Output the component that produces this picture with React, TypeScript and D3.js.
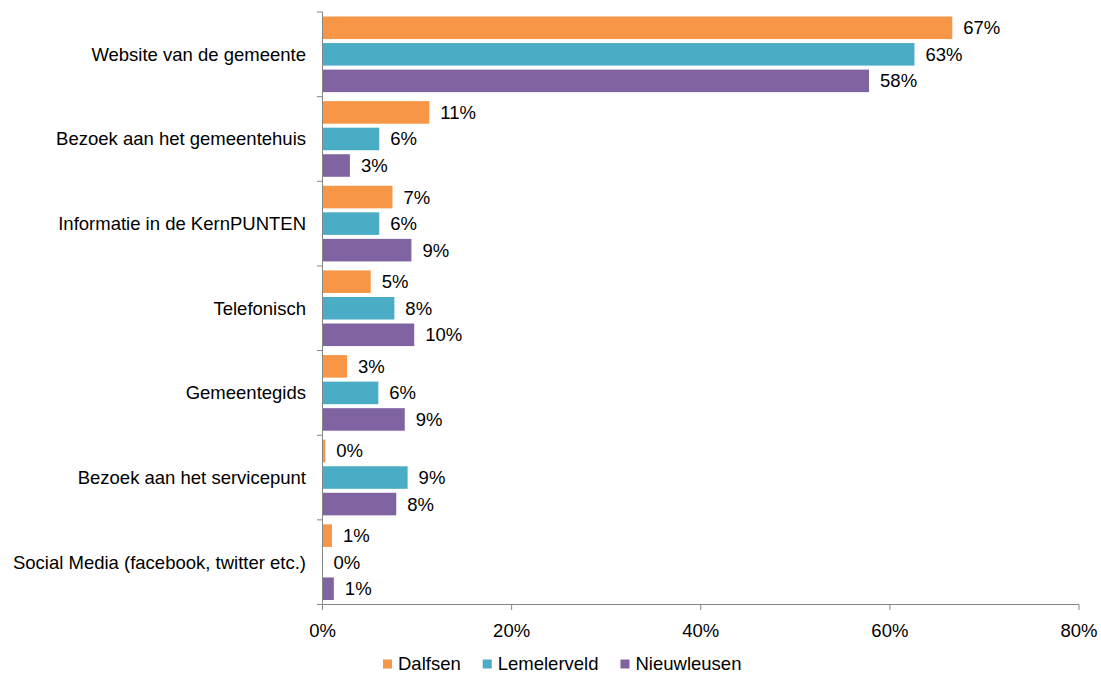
import React from "react";
import * as d3 from "d3";

const categories = [
  "Website van de gemeente",
  "Bezoek aan het gemeentehuis",
  "Informatie in de KernPUNTEN",
  "Telefonisch",
  "Gemeentegids",
  "Bezoek aan het servicepunt",
  "Social Media (facebook, twitter etc.)",
];
const seriesNames = ["Dalfsen", "Lemelerveld", "Nieuwleusen"];
const seriesColors = ["#F79646", "#4BACC6", "#8064A2"];
const dalfsen = [66.6, 11.3, 7.4, 5.1, 2.6, 0.3, 1.0];
const lemelerveld = [62.6, 6.0, 6.0, 7.6, 5.9, 9.0, 0];
const nieuwleusen = [57.8, 2.9, 9.4, 9.7, 8.7, 7.8, 1.2];
const seriesValues = [dalfsen, lemelerveld, nieuwleusen];
const xTicks = [0, 20, 40, 60, 80];

const W = 1101;
const H = 674;
const FONT = "'Liberation Sans', Arial, sans-serif";
const FS = 18.5;
const AXIS = "#868686";

export default function App() {
  const left = 322.5;
  const right = 1079;
  const top = 12;
  const bottom = 604.5;

  const x = d3.scaleLinear().domain([0, 80]).range([left, right]);
  const y = d3.scaleBand<string>().domain(categories).range([top, bottom]).padding(0);
  const bw = y.bandwidth();
  const inner = d3
    .scaleBand<string>()
    .domain(seriesNames)
    .range([4.5, bw - 4.5])
    .paddingInner(0.15)
    .paddingOuter(0);

  const boundaries = d3.range(categories.length + 1).map((i) => top + i * bw);

  // legend layout
  const sq = 9;
  const gapSq = 6;
  const gapEntry = 22;
  const measure = (s: string) => {
    const c = document.createElement("canvas").getContext("2d");
    if (!c) return s.length * 9;
    c.font = `${FS}px ${FONT}`;
    return c.measureText(s).width;
  };
  let lx = 383;
  const legend = seriesNames.map((n, i) => {
    const e = { name: n, color: seriesColors[i], x: lx };
    lx += sq + gapSq + measure(n) + gapEntry;
    return e;
  });
  const legendY = 663;

  return (
    <svg
      width={W}
      height={H}
      style={{ position: "absolute", left: 0, top: 0, background: "#fff" }}
      fontFamily={FONT}
      fontSize={FS}
    >
      <rect width={W} height={H} fill="#fff" />
      {categories.map((cat, ci) => (
        <g key={cat} transform={`translate(0,${y(cat)})`}>
          {seriesNames.map((s, si) => {
            const v = seriesValues[si][ci];
            const by = inner(s)!;
            const bh = inner.bandwidth();
            return (
              <g key={s}>
                {v > 0 && (
                  <rect
                    x={x(0)}
                    y={by}
                    width={x(v) - x(0)}
                    height={bh}
                    fill={seriesColors[si]}
                  />
                )}
                <text
                  x={x(v) + 11}
                  y={by + bh / 2}
                  dominantBaseline="central"
                  fill="#000"
                >
                  {`${Math.round(v)}%`}
                </text>
              </g>
            );
          })}
          <text
            x={306}
            y={bw / 2}
            textAnchor="end"
            dominantBaseline="central"
            fill="#000"
          >
            {cat}
          </text>
        </g>
      ))}
      {/* y axis */}
      <line x1={left} x2={left} y1={top} y2={bottom} stroke={AXIS} strokeWidth={1} />
      {boundaries.map((b, i) => (
        <line key={i} x1={left - 5.5} x2={left} y1={b} y2={b} stroke={AXIS} strokeWidth={1} />
      ))}
      {/* x axis */}
      <line x1={left} x2={right} y1={bottom} y2={bottom} stroke={AXIS} strokeWidth={1} />
      {xTicks.map((t) => (
        <g key={t}>
          <line x1={x(t)} x2={x(t)} y1={bottom} y2={bottom + 5.5} stroke={AXIS} strokeWidth={1} />
          <text x={x(t)} y={630} textAnchor="middle" dominantBaseline="central" fill="#000">
            {`${t}%`}
          </text>
        </g>
      ))}
      {/* legend */}
      {legend.map((l) => (
        <g key={l.name}>
          <rect x={l.x} y={legendY - 3.5} width={sq} height={sq} fill={l.color} />
          <text x={l.x + sq + gapSq} y={legendY} dominantBaseline="central" fill="#000">
            {l.name}
          </text>
        </g>
      ))}
    </svg>
  );
}
